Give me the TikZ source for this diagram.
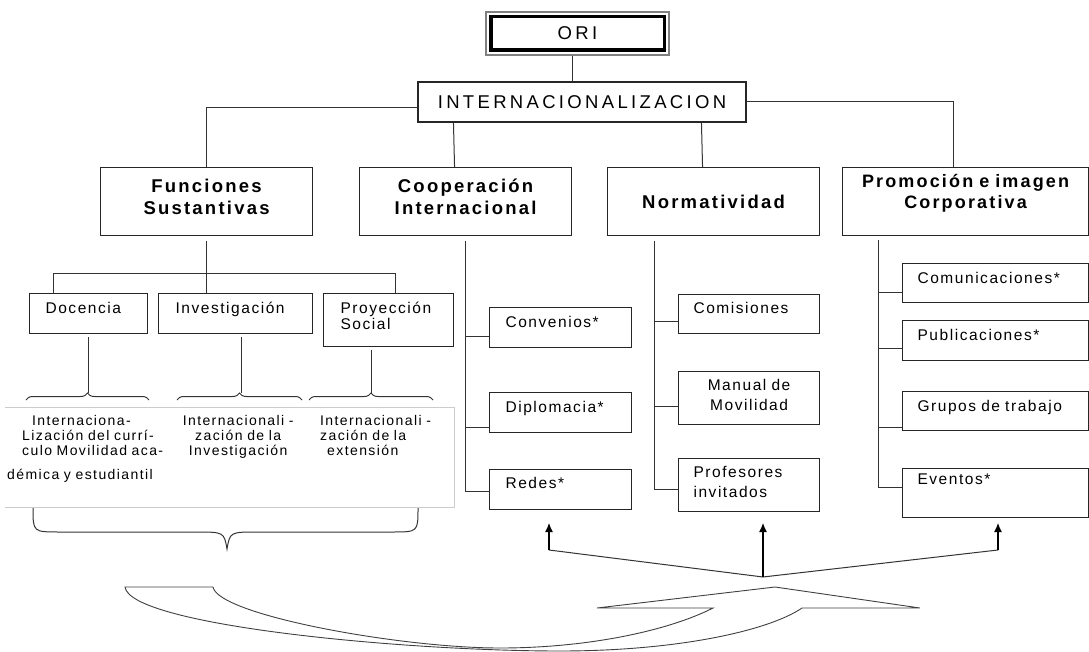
\documentclass[tikz,border=0pt]{standalone}
\usepackage{fontspec}
\setmainfont{Liberation Sans}
\newfontfamily\hdfont[LetterSpace=12]{Liberation Sans}
\newfontfamily\tpfont[LetterSpace=18]{Liberation Sans}
\newfontfamily\smfont[LetterSpace=10]{Liberation Sans}
\newfontfamily\lwfont[LetterSpace=10]{Liberation Sans}
\newcommand\ind[1]{\hspace*{#1pt}}
\usetikzlibrary{calc,arrows.meta,decorations.pathreplacing}
\begin{document}
\begin{tikzpicture}[x=1pt,y=-1pt,
  ln/.style={draw=black!80, line width=1pt},
  hbox/.style={draw=black!85, line width=1.1pt, anchor=north west, inner xsep=0pt, inner ysep=0pt,
    align=center, font=\hdfont\bfseries\fontsize{18.5}{22}\selectfont},
  sbox/.style={draw=black!85, line width=1.1pt, anchor=north west, inner xsep=0pt, inner ysep=0pt,
    align=left, font=\smfont\fontsize{15.5}{20}\selectfont},
  lw/.style={anchor=north west, inner sep=0pt, text height=12pt, font=\lwfont\fontsize{14}{15}\selectfont},
  tip/.style={draw=black, line width=1.2pt, -{Latex[length=9pt,width=8pt]}},
  carrow/.style={draw=black!75, line width=0.9pt},
]
\useasboundingbox (0,0) rectangle (1089,652);

% top
\node[draw=black!50, line width=1.5pt, minimum width=183pt, minimum height=43pt, inner sep=0pt,
  font=\tpfont\fontsize{18.5}{22}\selectfont] (ori) at (577.5,33.5) {ORI};
\draw[line width=3.5pt] ($(ori.north west)+(5.5,5.5)$) rectangle ($(ori.south east)+(-5.5,-5.5)$);
\node[draw=black!85, line width=1.1pt, minimum width=328pt, minimum height=40pt, inner sep=0pt,
  font=\tpfont\fontsize{18.5}{22}\selectfont] (intern) at (582,102) {INTERNACIONALIZACION};

% headers
\node[hbox, text width=212pt, text height=25pt, text depth=43pt] (func) at (100,167) {Funciones\\Sustantivas};
\node[hbox, text width=212pt, text height=25pt, text depth=43pt] (coop) at (359,167) {Cooperación\\Internacional};
\node[hbox, text width=212pt, text height=41pt, text depth=27pt] (norm) at (607,167) {Normatividad};
\node[hbox, text width=246pt, text height=20pt, text depth=48pt, font=\hdfont\bfseries\fontsize{18}{21}\selectfont] (prom) at (842,167) {Promoción e imagen\\Corporativa};

% Funciones children
\node[sbox, text width=118pt, text height=20pt, text depth=20pt] (doc) at (29,293) {\ind{16}Docencia};
\node[sbox, text width=154pt, text height=20pt, text depth=20pt] (inv) at (158,293) {\ind{17}Investigación};
\node[sbox, text width=130pt, text height=20pt, text depth=33pt, font=\smfont\fontsize{15.5}{16}\selectfont] (proy) at (323,293) {\ind{17}Proyección\\\ind{17}Social};

% Cooperacion children
\node[sbox, text width=142pt, text height=20pt, text depth=20pt] (conv) at (489,307) {\ind{16}Convenios*};
\node[sbox, text width=142pt, text height=20pt, text depth=20pt] (dipl) at (489,392) {\ind{16}Diplomacia*};
\node[sbox, text width=142pt, text height=19pt, text depth=21pt] (redes) at (489,469) {\ind{16}Redes*};

% Normatividad children
\node[sbox, text width=141pt, text height=19pt, text depth=20pt] (comi) at (678,294) {\ind{15}Comisiones};
\node[sbox, text width=141pt, text height=19pt, text depth=34pt, align=center] (manual) at (678,371) {Manual de\\Movilidad};
\node[sbox, text width=141pt, text height=19pt, text depth=34pt] (prof) at (678,458) {\ind{15}Profesores\\\ind{15}invitados};

% Promocion children
\node[sbox, text width=186pt, text height=20pt, text depth=19pt] (comu) at (902,263) {\ind{15}Comunicaciones*};
\node[sbox, text width=186pt, text height=20pt, text depth=20pt] (publ) at (902,320) {\ind{15}Publicaciones*};
\node[sbox, text width=186pt, text height=20pt, text depth=19pt] (grup) at (902,391) {\ind{15}Grupos de trabajo};
\node[sbox, text width=186pt, text height=16pt, text depth=33pt] (even) at (902,468) {\ind{15}Eventos*};

% top connectors
\draw[ln] ($(ori.south)+(-5.5,0)$) -- ($(intern.north)+(-10,0)$);
\draw[ln] ($(intern.west)+(0,6)$) -| (func.north);
\draw[ln] (intern.east) -| ($(prom.north)+(-12,0)$);
\draw[ln] ($(intern.south west)+(36,0)$) -- ($(coop.north)+(-11,0)$);
\draw[ln] ($(intern.south west)+(284,0)$) -- ($(norm.north)+(-11,0)$);

% Funciones subtree
\draw[ln, shorten <=5pt] (func.south) -- (func.south |- inv.north);
\draw[ln] ($(doc.north west)+(24,0)$) -- ++(0,-19) -| ($(proy.north west)+(72,0)$);
\draw[ln, shorten <=3pt] (doc.south) -- ++(0,59);
\draw[ln, shorten <=3pt] ($(inv.south)+(6,0)$) -- ++(0,59);
\draw[ln, shorten <=3pt] ($(proy.south)+(-17,0)$) -- ++(0,46);
\draw[ln, decorate, decoration={brace, amplitude=7pt}] (26,400) -- (149,400);
\draw[ln, decorate, decoration={brace, amplitude=7pt}] (177,400) -- (302,400);
\draw[ln, decorate, decoration={brace, amplitude=7pt}] (309,400) -- (433,400);

% lower text box
\draw[draw=black!20, line width=1pt] (5,407) -- (454,407) -- (454,507) -- (5,507);
\node[lw, text width=175pt, align=left] (c1) at (22,413)
  {\ind{10}Internaciona-\\Lización del currí-\\culo Movilidad aca-\\[9pt]\hspace*{-15pt}démica y estudiantil};
\node[lw, text width=125pt, align=center] (c2) at (175.5,413)
  {Internacionali -\\zación de la\\Investigación};
\node[lw, text width=125pt, align=left] (c3) at (320,413)
  {Internacionali -\\\makebox[117pt][s]{zación de la}\\\ind{7}extensión};

% big brace
\draw[ln] (33,508) .. controls (33,532) .. (60,532) -- (195,532)
  .. controls (224,532) .. (227,549) .. controls (230,532) .. (258,532)
  -- (392,532) .. controls (418,532) .. (418,508);

% Cooperacion trunk
\coordinate (convL) at ($(conv.north west)+(0,29)$);
\coordinate (diplL) at ($(dipl.north west)+(0,35)$);
\coordinate (redesL) at ($(redes.north west)+(0,22)$);
\draw[ln, shorten <=5pt] (coop.south) -- (coop.south |- redesL) -- (redesL);
\draw[ln] (coop.south |- convL) -- (convL);
\draw[ln] (coop.south |- diplL) -- (diplL);

% Normatividad trunk
\coordinate (comiL) at ($(comi.north west)+(0,27)$);
\coordinate (manL) at ($(manual.north west)+(0,35)$);
\coordinate (profL) at ($(prof.north west)+(0,31)$);
\coordinate (nT) at ($(norm.south)+(-59,0)$);
\draw[ln, shorten <=5pt] (nT) -- (nT |- profL) -- (profL);
\draw[ln] (nT |- comiL) -- (comiL);
\draw[ln] (nT |- manL) -- (manL);

% Promocion trunk
\coordinate (comuL) at ($(comu.north west)+(0,29)$);
\coordinate (publL) at ($(publ.north west)+(0,28)$);
\coordinate (grupL) at ($(grup.north west)+(0,36)$);
\coordinate (evenL) at ($(even.north west)+(0,19)$);
\coordinate (pT) at ($(prom.south west)+(36,0)$);
\draw[ln, shorten <=4pt] (pT) -- (pT |- evenL) -- (evenL);
\draw[ln] (pT |- comuL) -- (comuL);
\draw[ln] (pT |- publL) -- (publL);
\draw[ln] (pT |- grupL) -- (grupL);

% distribution arrows
\coordinate (a1) at (549,550);
\coordinate (a2) at (763,577);
\coordinate (a3) at (998,550);
\coordinate (t1) at (549,523);
\coordinate (t2) at (763,523);
\coordinate (t3) at (998,523);
\draw[ln] (a1) -- (a2) -- (a3);
\draw[tip] (a1) -- (t1);
\draw[tip] (a2) -- (t2);
\draw[tip] (a3) -- (t3);

% curved arrow
\draw[carrow, line join=miter] (125,587) -- (213,587)
  .. controls (218,615) and (400,648) .. (500,648)
  .. controls (590,648) and (670,630) .. (713,608)
  -- (597,608) -- (775,587) -- (920,608) -- (802,608)
  .. controls (770,630) and (680,651) .. (560,651)
  .. controls (400,651) and (130,625) .. (125,587) -- cycle;
\end{tikzpicture}
\end{document}
